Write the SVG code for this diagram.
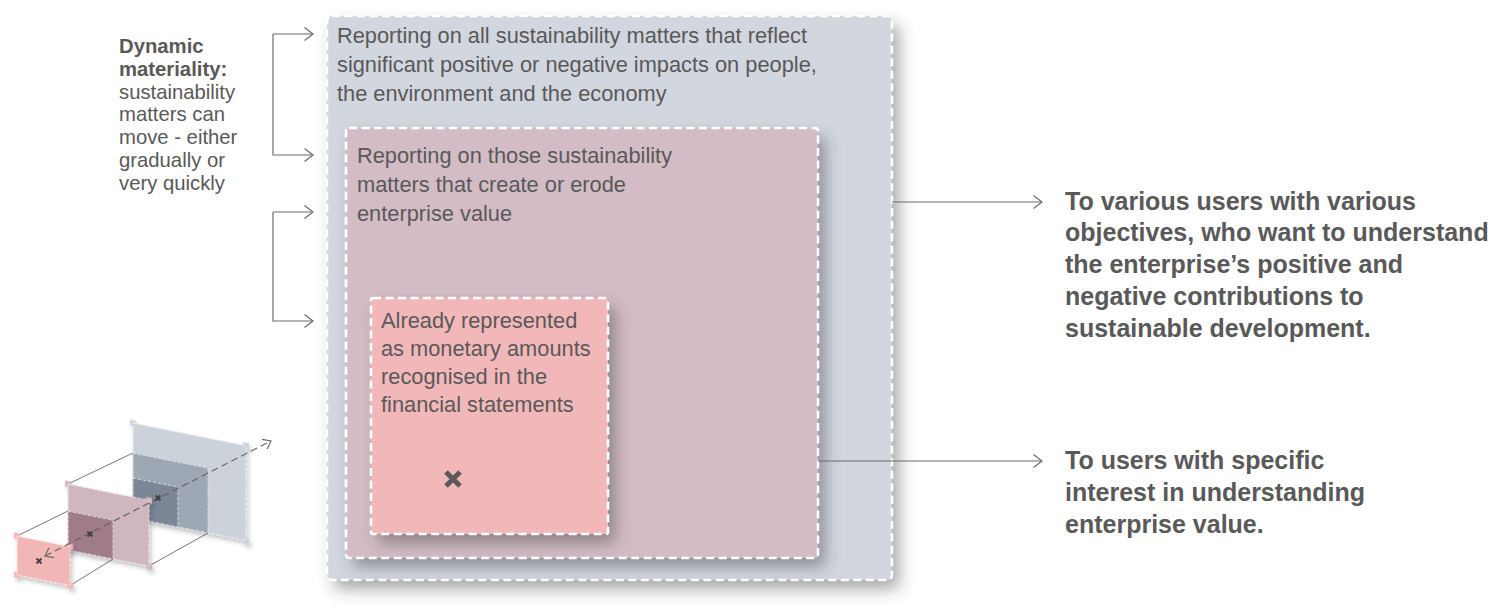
<svg xmlns="http://www.w3.org/2000/svg" width="1499" height="615" viewBox="0 0 1499 615">
<defs>
<style>
.t{font-family:"Liberation Sans",Arial,sans-serif;font-size:21.8px;fill:#595959}
.l{font-family:"Liberation Sans",Arial,sans-serif;font-size:20.3px;fill:#595959}
.b{font-weight:bold}
.r{font-family:"Liberation Sans",Arial,sans-serif;font-size:25px;font-weight:bold;fill:#595959}
.dash{fill:none;stroke:#ffffff;stroke-width:2.6;stroke-dasharray:8 4.5}
.thin{fill:none;stroke:#ffffff;stroke-width:0.8;stroke-dasharray:3 2;stroke-opacity:0.8}
.conn{stroke:#6b6b6b;stroke-width:1.2;fill:none}
.proj{stroke:#555555;stroke-width:0.8;fill:none}
.xm{stroke:#5a5a5a;stroke-width:5;stroke-linecap:butt}
.xs{stroke:#3f3f3f;stroke-width:1.8}
</style>
<filter id="sh" x="-10%" y="-10%" width="130%" height="130%">
<feDropShadow dx="7" dy="9" stdDeviation="8" flood-color="#3a3a3a" flood-opacity="0.45"/>
</filter>
<filter id="shs" x="-20%" y="-20%" width="150%" height="150%">
<feDropShadow dx="2" dy="3" stdDeviation="2" flood-color="#3a3a3a" flood-opacity="0.3"/>
</filter>
<marker id="chev" viewBox="0 0 10 14" refX="9" refY="7" markerWidth="10" markerHeight="14" markerUnits="userSpaceOnUse" orient="auto">
<path d="M0.5,0.5 L9,7 L0.5,13.5" fill="none" stroke="#6b6b6b" stroke-width="1.2"/>
</marker>
<marker id="chevs" viewBox="0 0 10 14" refX="9" refY="7" markerWidth="9" markerHeight="12" markerUnits="userSpaceOnUse" orient="auto-start-reverse">
<path d="M0.5,0.5 L9,7 L0.5,13.5" fill="none" stroke="#666666" stroke-width="1.3"/>
</marker>
</defs>

<g id="outer-box">
<rect x="327" y="16" width="565" height="564" rx="5" fill="#d2d6df" filter="url(#sh)"/>
<rect x="327" y="16" width="565" height="564" rx="5" class="dash"/>
<text class="t" x="337" y="43">Reporting on all sustainability matters that reflect</text>
<text class="t" x="337" y="72">significant positive or negative impacts on people,</text>
<text class="t" x="337" y="101">the environment and the economy</text>
</g>

<g id="middle-box">
<rect x="346" y="128" width="472" height="430" rx="3" fill="#d3bcc5" filter="url(#sh)"/>
<rect x="346" y="128" width="472" height="430" rx="3" class="dash"/>
<text class="t" x="357" y="163">Reporting on those sustainability</text>
<text class="t" x="357" y="192">matters that create or erode</text>
<text class="t" x="357" y="221">enterprise value</text>
</g>

<g id="inner-box">
<rect x="371" y="298" width="237" height="236" rx="2" fill="#f2b8b9" filter="url(#sh)"/>
<rect x="371" y="298" width="237" height="236" rx="2" class="dash"/>
<text class="t" x="381" y="328">Already represented</text>
<text class="t" x="381" y="356">as monetary amounts</text>
<text class="t" x="381" y="384">recognised in the</text>
<text class="t" x="381" y="412">financial statements</text>
<path class="xm" d="M446,472 L460,486 M460,472 L446,486"/>
</g>

<g id="dynamic-materiality">
<text class="l b" x="119" y="53">Dynamic</text>
<text class="l b" x="119" y="75.8">materiality:</text>
<text class="l" x="119" y="98.6">sustainability</text>
<text class="l" x="119" y="121.4">matters can</text>
<text class="l" x="119" y="144.2">move - either</text>
<text class="l" x="119" y="167">gradually or</text>
<text class="l" x="119" y="189.8">very quickly</text>
</g>

<g id="users-various">
<text class="r" x="1065" y="210">To various users with various</text>
<text class="r" x="1065" y="241">objectives, who want to understand</text>
<text class="r" x="1065" y="273">the enterprise’s positive and</text>
<text class="r" x="1065" y="305">negative contributions to</text>
<text class="r" x="1065" y="337">sustainable development.</text>
</g>

<g id="users-specific">
<text class="r" x="1065" y="469">To users with specific</text>
<text class="r" x="1065" y="501">interest in understanding</text>
<text class="r" x="1065" y="533">enterprise value.</text>
</g>

<g id="connectors">
<path class="conn" d="M273,34 L313,34" marker-end="url(#chev)"/>
<path class="conn" d="M273,34 L273,155 L313,155" marker-end="url(#chev)"/>
<path class="conn" d="M273,212 L313,212" marker-end="url(#chev)"/>
<path class="conn" d="M273,212 L273,321 L313,321" marker-end="url(#chev)"/>
<path class="conn" d="M892,202 L1042,202" marker-end="url(#chev)"/>
<path class="conn" d="M818,461 L1042,461" marker-end="url(#chev)"/>
</g>

<g id="icon">
<g transform="matrix(1,0.2,0,1,0,0)">
<g id="icon-back" filter="url(#shs)">
<rect x="133" y="396.4" width="113" height="95" fill="#ccd2da"/>
<rect x="133" y="426.4" width="75" height="65" fill="#9ea8b4"/>
<rect x="133" y="451.4" width="45" height="40" fill="#7b8696"/>
<path d="M130,393.4 h6 v3 h-3 v3 h-3 z M249,393.4 h-6 v3 h3 v3 h3 z M130,494.4 h6 v-3 h-3 v-3 h-3 z M249,494.4 h-6 v-3 h3 v-3 h3 z" fill="#ccd2da"/>
<rect x="133" y="396.4" width="113" height="95" class="thin"/>
<path class="thin" d="M133,426.4 H208 V491.4 M133,451.4 H178 V491.4"/>
</g>
</g>
<path class="proj" d="M68,484 L133,453 M149,566 L208,533"/>
<g transform="matrix(1,0.2,0,1,0,0)">
<g id="icon-mid" filter="url(#shs)">
<rect x="68" y="470.4" width="81" height="66" fill="#cfb6bf"/>
<rect x="68" y="497.4" width="45" height="39" fill="#a07c88"/>
<path d="M65,467.4 h6 v3 h-3 v3 h-3 z M152,467.4 h-6 v3 h3 v3 h3 z M65,539.4 h6 v-3 h-3 v-3 h-3 z M152,539.4 h-6 v-3 h3 v-3 h3 z" fill="#cfb6bf"/>
<rect x="68" y="470.4" width="81" height="66" class="thin"/>
<path class="thin" d="M68,497.4 H113 V536.4"/>
</g>
</g>
<path class="proj" d="M17,536 L68,511 M70,585.6 L113,559"/>
<g transform="matrix(1,0.2,0,1,0,0)">
<g id="icon-front" filter="url(#shs)">
<rect x="17" y="532.6" width="53" height="39" fill="#f2b6b6"/>
<path d="M14,529.6 h6 v3 h-3 v3 h-3 z M73,529.6 h-6 v3 h3 v3 h3 z M14,574.6 h6 v-3 h-3 v-3 h-3 z M73,574.6 h-6 v-3 h3 v-3 h3 z" fill="#f2b6b6"/>
<rect x="17" y="532.6" width="53" height="39" class="thin"/>
</g>
</g>
<path d="M45,556 L271,441" fill="none" stroke="#666666" stroke-width="1.2" stroke-dasharray="7 4" marker-start="url(#chevs)" marker-end="url(#chevs)"/>
<path class="xs" d="M155.5,495.5 L160.5,500.5 M160.5,495.5 L155.5,500.5 M87.5,531.5 L92.5,536.5 M92.5,531.5 L87.5,536.5 M36.5,558.5 L41.5,563.5 M41.5,558.5 L36.5,563.5"/>
</g>
</svg>
